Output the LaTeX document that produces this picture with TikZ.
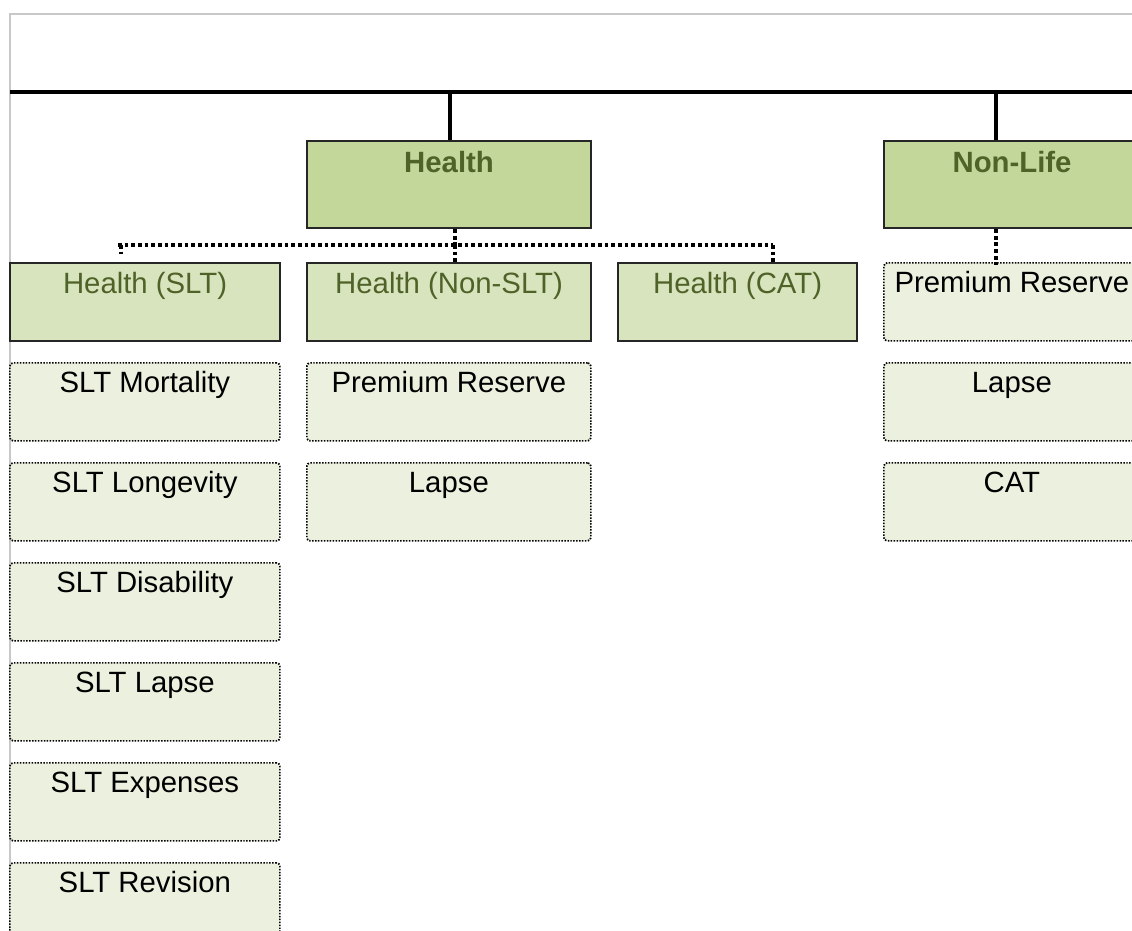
\documentclass[tikz,border=0pt]{standalone}
\usepackage{fontspec}
\setmainfont{Liberation Sans}
\definecolor{hfill}{HTML}{C4D79B}
\definecolor{sfill}{HTML}{D7E4BD}
\definecolor{lfill}{HTML}{EBF1DE}
\definecolor{olive}{HTML}{4F6228}
\definecolor{edge}{HTML}{262626}
\definecolor{framegray}{HTML}{C8C8C8}
\begin{document}
\begin{tikzpicture}[x=0.75pt,y=-0.75pt,
  every node/.style={font=\fontsize{22}{26}\selectfont, inner ysep=0pt, inner xsep=2pt},
  topbox/.style={draw=edge, line width=1.6pt, fill=hfill, text=olive, font=\fontsize{22}{26}\selectfont\bfseries,
    anchor=north west, text height=23.5pt, text depth=41.75pt, minimum height=65.25pt},
  subbox/.style={draw=edge, line width=1.6pt, fill=sfill, text=olive,
    anchor=north west, text height=22.5pt, text depth=36pt, minimum height=58.5pt},
  leaf/.style={draw=black, line width=1.3pt, dash pattern=on 1.1pt off 1.1pt, rounded corners=2.5pt, fill=lfill, text=black,
    anchor=north west, text height=22.5pt, text depth=36pt, minimum height=58.5pt},
  wslt/.style={minimum width=202.5pt},
  wnon/.style={minimum width=213pt},
  wcat/.style={minimum width=179.25pt},
  wnl/.style={minimum width=192pt},
  bus/.style={draw=black, line width=2.6pt},
  conn/.style={draw=black, line width=2.8pt, dash pattern=on 2.8pt off 2.2pt},
]
\clip (0,0) rectangle (1132,931);
\fill[white] (0,0) rectangle (1132,931);
% frame
\draw[framegray, line width=1pt] (10,931) -- (10,14) -- (1140,14);
% top bar
\coordinate (barL) at (10,92);
\coordinate (barR) at (1140,92);
\draw[bus] (barL) -- (barR);

% level 1
\node[topbox, wnon] (health) at (306,140) {Health};
\node[topbox, wnl] (nonlife) at (883,140) {Non-Life};
\draw[bus] (health.north -| 450,0) -- (barL -| 450,0);
\draw[bus] (nonlife.north -| 996,0) -- (barR -| 996,0);

% level 2
\node[subbox, wslt] (hslt) at (9,262) {Health (SLT)};
\node[subbox, wnon] (hnon) at (306,262) {Health (Non-SLT)};
\node[subbox, wcat] (hcat) at (617,262) {Health (CAT)};

% Non-Life children
\node[leaf, wnl] (nlprem) at (883,262) {Premium Reserve};
\node[leaf, wnl] (nllapse) at (883,362) {Lapse};
\node[leaf, wnl] (nlcat) at (883,462) {CAT};

% SLT children
\node[leaf, wslt] (s1) at (9,362) {SLT Mortality};
\node[leaf, wslt] (s2) at (9,462) {SLT Longevity};
\node[leaf, wslt] (s3) at (9,562) {SLT Disability};
\node[leaf, wslt] (s4) at (9,662) {SLT Lapse};
\node[leaf, wslt] (s5) at (9,762) {SLT Expenses};
\node[leaf, wslt] (s6) at (9,862) {SLT Revision};

% Non-SLT children
\node[leaf, wnon] (n1) at (306,362) {Premium Reserve};
\node[leaf, wnon] (n2) at (306,462) {Lapse};

% dotted connectors
\coordinate (busL) at (118,245);
\coordinate (busR) at (773,245);
\draw[conn] (health.south -| 455,0) -- (busL -| 455,0);
\draw[conn] (busL) -- (busR);
\draw[conn] (busL -| 121,0) -- (121,254);
\draw[conn] (busL -| 455,0) -- ([yshift=-2pt]hnon.north -| 455,0);
\draw[conn] (busR) -- ([yshift=-2pt]hcat.north -| busR);
\draw[conn] (nonlife.south -| 996,0) -- ([yshift=-2pt]nlprem.north -| 996,0);
\end{tikzpicture}
\end{document}
